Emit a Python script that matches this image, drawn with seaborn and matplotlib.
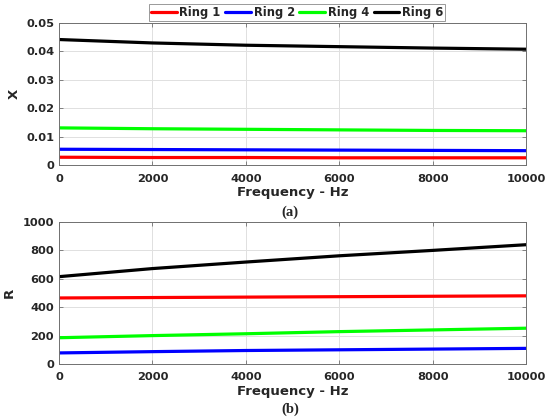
import seaborn as sns
import numpy as np
import pandas as pd
import matplotlib
matplotlib.use('Agg')
import matplotlib.pyplot as plt

freq = [0, 2000, 4000, 6000, 8000, 10000]
rings = ['Ring 1', 'Ring 2', 'Ring 4', 'Ring 6']
colors = ['#ff0000', '#0000ff', '#00ff00', '#000000']

# reactance X
x_ring1 = [0.0029, 0.0028, 0.0028, 0.0027, 0.0027, 0.0027]
x_ring2 = [0.0057, 0.0056, 0.0055, 0.0054, 0.0053, 0.0052]
x_ring4 = [0.0132, 0.0129, 0.0127, 0.0125, 0.0123, 0.0122]
x_ring6 = [0.0442, 0.0430, 0.0422, 0.0417, 0.0412, 0.0408]

# resistance R
r_ring1 = [465, 468, 471, 474, 477, 480]
r_ring2 = [78, 87, 95, 100, 105, 110]
r_ring4 = [185, 200, 213, 228, 240, 252]
r_ring6 = [615, 672, 718, 762, 800, 840]

def long_df(series):
    rows = []
    for name, vals in zip(rings, series):
        for f, v in zip(freq, vals):
            rows.append({'freq': f, 'val': v, 'ring': name})
    return pd.DataFrame(rows)

df_x = long_df([x_ring1, x_ring2, x_ring4, x_ring6])
df_r = long_df([r_ring1, r_ring2, r_ring4, r_ring6])

sns.set_style('whitegrid')
plt.rcParams['font.family'] = ['DejaVu Sans']
plt.rcParams['font.weight'] = 'bold'

W, H = 550, 420
fig = plt.figure(figsize=(5.5, 4.2), dpi=100)
ax1 = fig.add_axes([59/W, 1 - 165.5/H, 467/W, 142.5/H])
ax2 = fig.add_axes([59/W, 1 - 364/H, 467/W, 142/H])

pal = dict(zip(rings, colors))
sns.lineplot(data=df_x, x='freq', y='val', hue='ring', palette=pal, lw=2.3, ax=ax1)
sns.lineplot(data=df_r, x='freq', y='val', hue='ring', palette=pal, lw=2.3, ax=ax2, legend=False)

# ylabel x position is the right edge of the rotated text
for ax, ylab, ylx in [(ax1, 'X', -0.081), (ax2, 'R', -0.093)]:
    ax.set_xlim(0, 10000)
    ax.set_xticks([0, 2000, 4000, 6000, 8000, 10000])
    ax.set_xlabel('Frequency - Hz', fontsize=9.5, fontweight='bold')
    ax.set_ylabel(ylab, fontsize=9.5, fontweight='bold')
    ax.xaxis.set_label_coords(0.5, -0.145)
    ax.yaxis.set_label_coords(ylx, 0.5)
    ax.grid(True, color='#e0e0e0', lw=0.7)
    for s in ax.spines.values():
        s.set_visible(True)
        s.set_color('#707070')
        s.set_linewidth(0.7)
    ax.tick_params(direction='in', length=3, labelsize=8.2, width=0.6, color='#707070',
                   top=True, right=True, left=True, bottom=True)
    ax.tick_params(axis='x', pad=6)
    ax.tick_params(axis='y', pad=3.5)
    for lbl in ax.get_xticklabels() + ax.get_yticklabels():
        lbl.set_fontweight('bold')

ax1.set_ylim(0, 0.05)
ax1.set_yticks([0, 0.01, 0.02, 0.03, 0.04, 0.05])
ax1.set_yticklabels(['0', '0.01', '0.02', '0.03', '0.04', '0.05'])
ax2.set_ylim(0, 1000)
ax2.set_yticks([0, 200, 400, 600, 800, 1000])

leg = ax1.legend(loc='lower center', bbox_to_anchor=(0.51, 1.012), ncol=4,
                 frameon=True, fancybox=False, edgecolor='#808080', fontsize=8.3,
                 handlelength=2.2, columnspacing=0.4, handletextpad=0.25,
                 borderpad=0.2, borderaxespad=0.0)
leg.get_frame().set_linewidth(0.7)
for t in leg.get_texts():
    t.set_fontweight('bold')
for h in leg.get_lines():
    h.set_linewidth(2.3)

fig.text(290/W, 1 - 212/H, '(a)', ha='center', va='center',
         family='Liberation Serif', fontweight='bold', fontsize=10.5)
fig.text(290/W, 1 - 409/H, '(b)', ha='center', va='center',
         family='Liberation Serif', fontweight='bold', fontsize=10.5)

fig.savefig('out.png', dpi=100)
